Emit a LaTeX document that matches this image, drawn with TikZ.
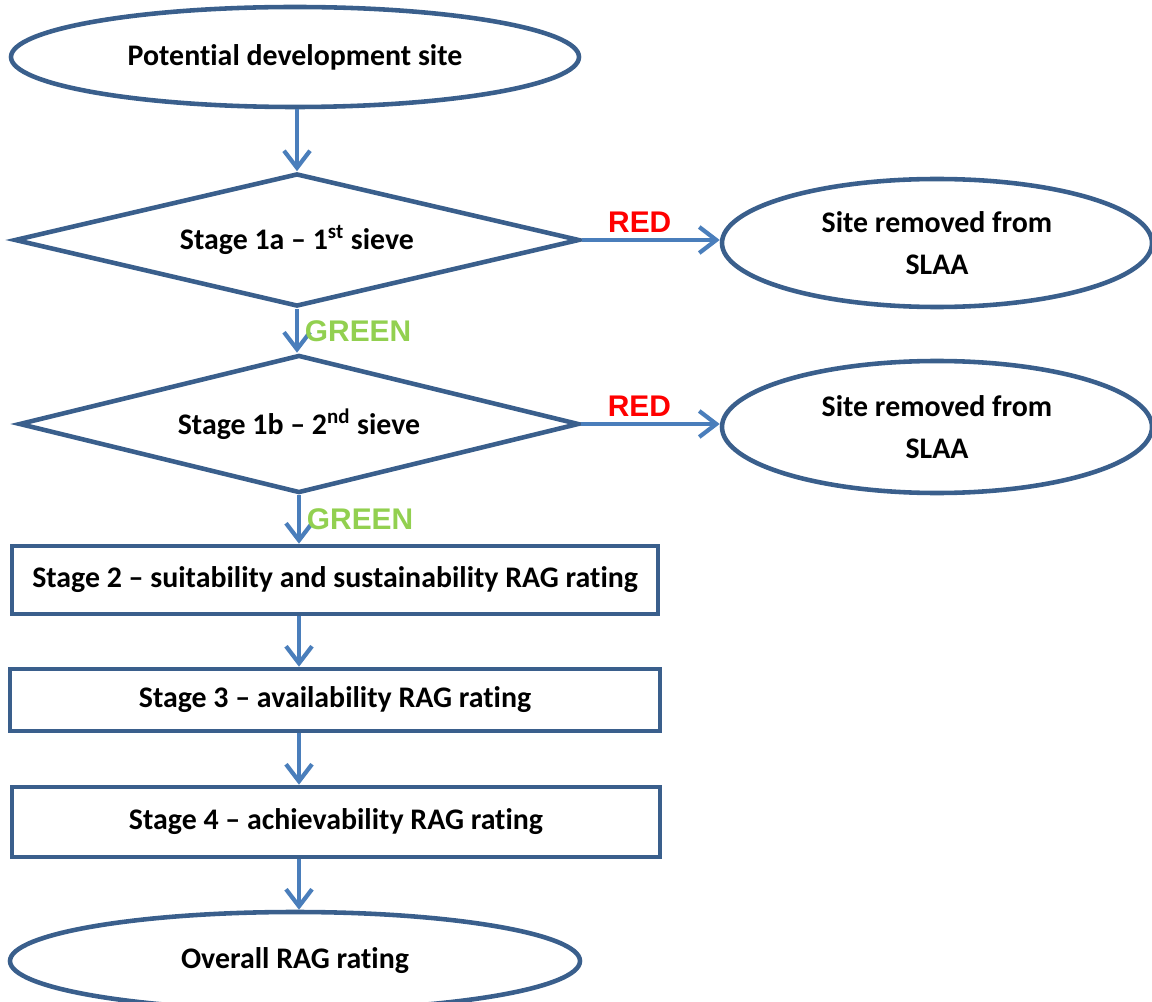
\documentclass[tikz,border=0pt]{standalone}
\usepackage{fontspec}
\setmainfont[Ligatures=NoCommon]{Carlito}
\newfontfamily\labelfont{Liberation Sans}
\usetikzlibrary{shapes.geometric,arrows.meta}
\definecolor{boxblue}{RGB}{58,95,140}
\definecolor{arrowblue}{RGB}{74,126,187}
\definecolor{redlabel}{RGB}{255,0,0}
\definecolor{greenlabel}{RGB}{146,208,80}
\begin{document}
\begin{tikzpicture}[
    every node/.style={font=\fontsize{17}{24}\selectfont\bfseries},
    oval/.style={ellipse, draw=boxblue, line width=2.6pt, inner sep=0pt, align=center},
    sieve/.style={diamond, draw=boxblue, line width=2.6pt, inner sep=0pt, aspect=6},
    stagebox/.style={rectangle, draw=boxblue, line width=2.6pt, inner sep=0pt},
    flow/.style={draw=arrowblue, line width=2.4pt, -{Straight Barb[length=0.34cm,width=0.52cm]}},
    red/.style={font=\fontsize{17}{20}\selectfont\labelfont\bfseries, text=redlabel},
    green/.style={font=\fontsize{17}{20}\selectfont\labelfont\bfseries, text=greenlabel}
  ]
  \useasboundingbox (0,0) rectangle (23.04,-20.04);
  \path
    (5.9,-1.14) node[oval, minimum width=11.36cm, minimum height=2cm] (site){Potential development site}
    (5.94,-4.8) node[sieve, minimum width=11.3cm, minimum height=2.66cm] (sievea){Stage 1a -- 1\textsuperscript{st} sieve}
    (18.74,-4.86) node[oval, minimum width=8.6cm, minimum height=2.56cm] (removeda){Site removed from\\SLAA}
    (5.98,-8.48) node[sieve, minimum width=11.2cm, minimum height=2.76cm] (sieveb){Stage 1b -- 2\textsuperscript{nd} sieve}
    (18.74,-8.54) node[oval, minimum width=8.6cm, minimum height=2.64cm] (removedb){Site removed from\\SLAA}
    (6.7,-11.6) node[stagebox, minimum width=12.92cm, minimum height=1.36cm] (stage2){Stage 2 -- suitability and sustainability RAG rating}
    (6.7,-14.0) node[stagebox, minimum width=13.0cm, minimum height=1.24cm] (stage3){Stage 3 -- availability RAG rating}
    (6.72,-16.44) node[stagebox, minimum width=12.96cm, minimum height=1.4cm] (stage4){Stage 4 -- achievability RAG rating}
    (5.9,-19.22) node[oval, minimum width=11.4cm, minimum height=1.96cm] (overall){Overall RAG rating};
  \begin{scope}[flow]
    \draw (sievea.north |- site.south) to (sievea.north);
    \draw (sievea.east) to node[red, above, pos=0.42] {RED} (sievea.east -| removeda.west);
    \draw (sievea.south) to node[green, right, pos=0.5] {GREEN} (sievea.south |- sieveb.north);
    \draw (sieveb.east) to node[red, above, pos=0.42] {RED} (sieveb.east -| removedb.west);
    \draw (sieveb.south) to node[green, right, pos=0.5] {GREEN} (sieveb.south |- stage2.north);
    \draw (stage2.south -| sieveb.south) to (stage3.north -| sieveb.south);
    \draw (stage3.south -| sieveb.south) to (stage4.north -| sieveb.south);
    \draw (stage4.south -| sieveb.south) to (overall.north -| sieveb.south);
  \end{scope}
\end{tikzpicture}
\end{document}
